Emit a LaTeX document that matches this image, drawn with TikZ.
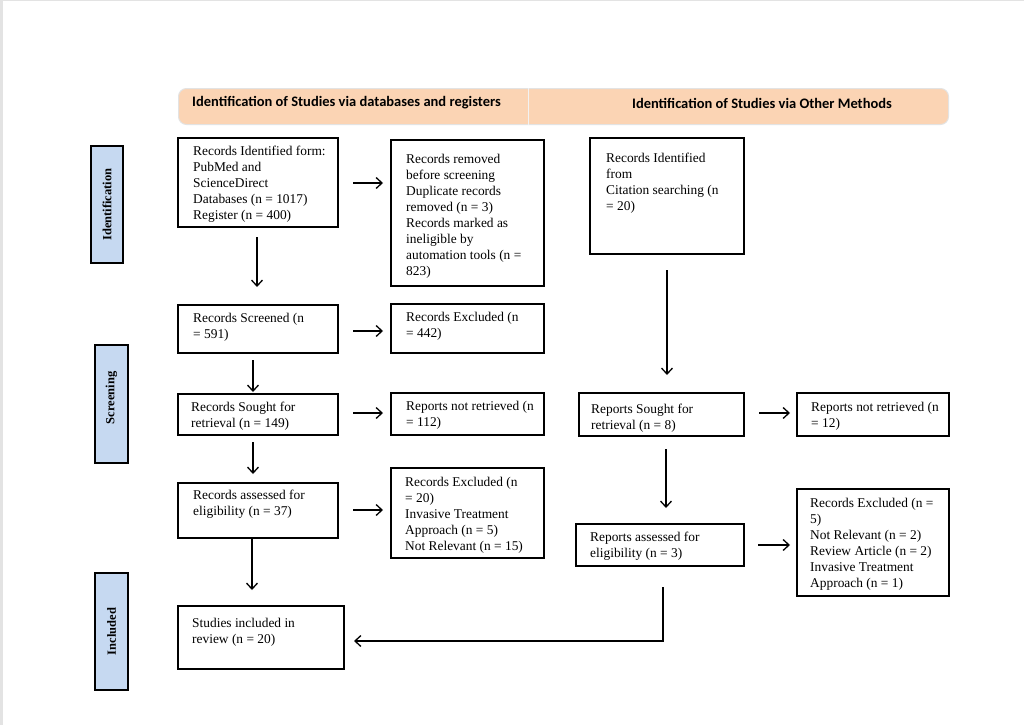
\documentclass[tikz,border=0pt]{standalone}
\usepackage{fontspec}
\setmainfont{Liberation Serif}
\newfontfamily\hdrfont{Carlito}
\usetikzlibrary{arrows.meta,calc}
\definecolor{peach}{HTML}{FBD4B4}
\definecolor{sideblue}{HTML}{C6D9F1}
\definecolor{frame}{HTML}{E3E3E3}
\begin{document}
\begin{tikzpicture}[x=1pt,y=-1pt,
  box/.style={draw=black,line width=2pt,anchor=north west,inner sep=0pt},
  txt/.style={anchor=north west,inner sep=0pt,align=left,font=\fontsize{13.4}{16}\selectfont,yshift=-2.5pt},
  side/.style={draw=black,line width=2pt,fill=sideblue,inner sep=0pt},
  sidetxt/.style={rotate=90,font=\fontsize{12.5}{14}\selectfont\bfseries},
  arr/.style={line width=1.3pt,-{Straight Barb[length=6pt,width=11pt,line width=1.3pt]}},
  hdr/.style={font=\hdrfont\fontsize{14.5}{17}\selectfont\bfseries,inner sep=0pt}]
\useasboundingbox (0,0) rectangle (1024,725);
\fill[white] (0,0) rectangle (1024,725);
\fill[frame] (0,0) rectangle (2.5,725);
\fill[frame] (0,0) rectangle (1024,1.5);

% header
\node[draw=frame,line width=1pt,fill=peach,rounded corners=8pt,anchor=north west,minimum width=770pt,minimum height=36pt,inner sep=0pt] (hd) at (178,88) {};
\draw[white!90!gray,line width=1pt] (528,0 |- hd.north) -- (528,0 |- hd.south);
\node[hdr,anchor=west] (h1) at (192,103) {Identification of Studies via databases and registers};
\node[hdr] (h2) at (762,103) {Identification of Studies via Other Methods};

% side labels
\node[side,anchor=north west,minimum width=32pt,minimum height=117pt] (s1) at (90,145) {};
\node[sidetxt] (s1t) at (s1.center) {Identification};
\node[side,anchor=north west,minimum width=33pt,minimum height=118pt] (s2) at (94,344) {};
\node[sidetxt] (s2t) at ([xshift=0pt,yshift=6pt]s2.center) {Screening};
\node[side,anchor=north west,minimum width=33pt,minimum height=117pt] (s3) at (94,572) {};
\node[sidetxt] (s3t) at (s3.center) {Included};

% boxes left
\node[box,minimum width=160pt,minimum height=89pt] (b1) at (177,137) {};
\node[txt] (t1) at (193,143.5) {Records Identified form:\\PubMed and\\ScienceDirect\\Databases (n = 1017)\\Register (n = 400)};
\node[box,minimum width=153pt,minimum height=146pt] (b2) at (390,139) {};
\node[txt] (t2) at (406,151.5) {Records removed\\before screening\\Duplicate records\\removed (n = 3)\\Records marked as\\ineligible by\\automation tools (n =\\823)};
\node[box,minimum width=160pt,minimum height=48pt] (b3) at (177,304) {};
\node[txt] (t3) at (193,310.5) {Records Screened (n\\= 591)};
\node[box,minimum width=153pt,minimum height=49pt] (b4) at (390,303) {};
\node[txt] (t4) at (406,309.5) {Records Excluded (n\\= 442)};
\node[box,minimum width=160pt,minimum height=41pt] (b5) at (177,393) {};
\node[txt] (t5) at (191,399.5) {Records Sought for\\retrieval (n = 149)};
\node[box,minimum width=153pt,minimum height=42pt] (b6) at (390,392) {};
\node[txt] (t6) at (406,398.5) {Reports not retrieved (n\\= 112)};
\node[box,minimum width=160pt,minimum height=55pt] (b7) at (177,482) {};
\node[txt] (t7) at (193,487.5) {Records assessed for\\eligibility (n = 37)};
\node[box,minimum width=153pt,minimum height=90pt] (b8) at (390,467) {};
\node[txt] (t8) at (405,474.5) {Records Excluded (n\\= 20)\\Invasive Treatment\\Approach (n = 5)\\Not Relevant (n = 15)};
\node[box,minimum width=166pt,minimum height=63pt] (b9) at (177,605) {};
\node[txt] (t9) at (192,615.5) {Studies included in\\review (n = 20)};

% boxes right
\node[box,minimum width=154pt,minimum height=116pt] (b10) at (589,137) {};
\node[txt] (t10) at (606,150.5) {Records Identified\\from\\Citation searching (n\\= 20)};
\node[box,minimum width=165pt,minimum height=43pt] (b11) at (578,392) {};
\node[txt] (t11) at (591,401.5) {Reports Sought for\\retrieval (n = 8)};
\node[box,minimum width=152pt,minimum height=43pt] (b12) at (796,392) {};
\node[txt] (t12) at (811,399.5) {Reports not retrieved (n\\= 12)};
\node[box,minimum width=168pt,minimum height=42pt] (b13) at (575,523) {};
\node[txt] (t13) at (590,529.5) {Reports assessed for\\eligibility (n = 3)};
\node[box,minimum width=152pt,minimum height=107pt] (b14) at (796,488) {};
\node[txt] (t14) at (810,495.5) {Records Excluded (n =\\5)\\Not Relevant (n = 2)\\Review Article (n = 2)\\Invasive Treatment\\Approach (n = 1)};

% arrows
\draw[arr,shorten <=14pt,shorten >=7pt] (b1.east |- 0,183) -- (b2.west |- 0,183);
\draw[arr,shorten <=9pt,shorten >=17pt] (257,0 |- b1.south) -- (257,0 |- b3.north);
\draw[arr,shorten <=14pt,shorten >=7pt] (b3.east |- 0,331) -- (b4.west |- 0,331);
\draw[arr,shorten <=6pt,shorten >=1pt] (253,0 |- b3.south) -- (253,0 |- b5.north);
\draw[arr,shorten <=14pt,shorten >=7pt] (b5.east |- 0,413) -- (b6.west |- 0,413);
\draw[arr,shorten <=6pt,shorten >=8pt] (253,0 |- b5.south) -- (253,0 |- b7.north);
\draw[arr,shorten <=14pt,shorten >=7pt] (b7.east |- 0,510) -- (b8.west |- 0,510);
\draw[arr,shorten >=15pt] (252,0 |- b7.south) -- (252,0 |- b9.north);
\draw[arr,shorten <=15pt,shorten >=17pt] (667,0 |- b10.south) -- (667,0 |- b11.north);
\draw[arr,shorten <=14pt,shorten >=6pt] (b11.east |- 0,413) -- (b12.west |- 0,413);
\draw[arr,shorten <=12pt,shorten >=15pt] (666,0 |- b11.south) -- (666,0 |- b13.north);
\draw[arr,shorten <=13pt,shorten >=6pt] (b13.east |- 0,545) -- (b14.west |- 0,545);
\draw[arr,shorten <=20pt,shorten >=9pt] (663,0 |- b13.south) |- (b9.east |- 0,641);
\end{tikzpicture}
\end{document}
